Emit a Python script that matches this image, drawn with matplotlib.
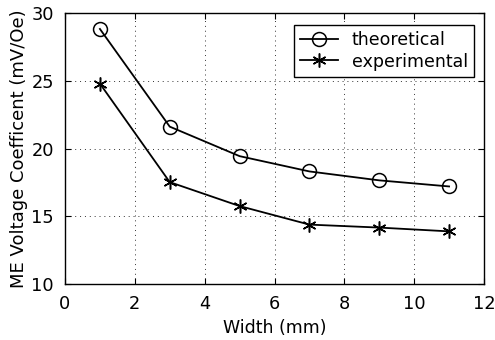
import matplotlib
matplotlib.use("Agg")
import matplotlib.pyplot as plt

width_mm = [1, 3, 5, 7, 9, 11]
theoretical = [28.85, 21.63, 19.45, 18.32, 17.66, 17.21]
experimental = [24.81, 17.53, 15.76, 14.39, 14.17, 13.89]
xticks = [0, 2, 4, 6, 8, 10, 12]
yticks = [10, 15, 20, 25, 30]

plt.rcParams['font.family'] = ['DejaVu Sans']

fig = plt.figure(figsize=(4.95, 3.4), dpi=100)
ax = fig.add_axes([65/495, 56/340, (484-65)/495, (284-13.4)/340])

ax.plot(width_mm, theoretical, color='black', lw=1.3, marker='o', ms=10,
        mfc='none', mec='black', mew=1.1, label='theoretical')
ax.plot(width_mm, experimental, color='black', lw=1.3, marker=(6, 2, 0), ms=10,
        mec='black', mew=1.1, label='experimental')

ax.set_xlim(0, 12)
ax.set_ylim(10, 30)
ax.set_xticks(xticks)
ax.set_yticks(yticks)
ax.grid(True, linestyle=(0, (1, 4)), color='black', lw=0.7, alpha=0.8)
ax.tick_params(direction='in', top=True, right=True, labelsize=12.8, length=4, width=0.8)
ax.tick_params(axis='x', pad=8)
ax.tick_params(axis='y', pad=8)
for s in ax.spines.values():
    s.set_linewidth(1.0)

ax.set_xlabel('Width (mm)', fontsize=12.5, labelpad=4)
ax.set_ylabel('ME Voltage Coefficent (mV/Oe)', fontsize=13, labelpad=2)

leg = ax.legend(loc='upper right', bbox_to_anchor=(474/495, (340-25)/340),
                bbox_transform=fig.transFigure, fontsize=12.5, frameon=True,
                fancybox=False, edgecolor='black', framealpha=1, borderaxespad=0,
                handlelength=2.2, borderpad=0.35, labelspacing=0.2, handletextpad=0.8)
leg.get_frame().set_linewidth(1.0)

fig.savefig('out.png', dpi=100)
